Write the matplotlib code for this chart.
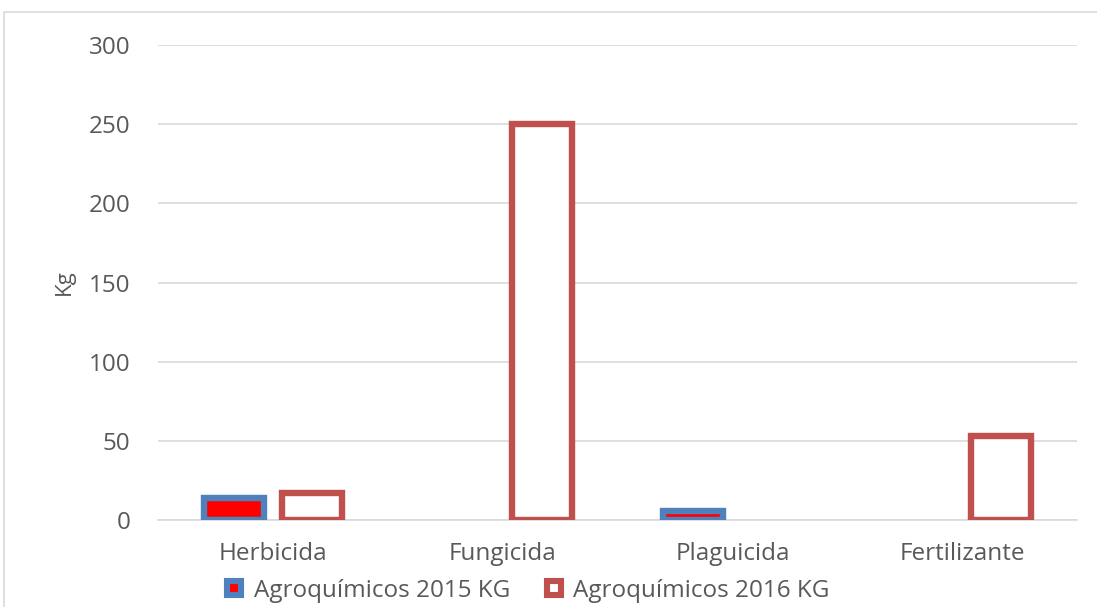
import matplotlib
matplotlib.use("Agg")
import matplotlib.pyplot as plt
import numpy as np
from matplotlib.patches import Rectangle
from matplotlib.lines import Line2D

categories = ["Herbicida", "Fungicida", "Plaguicida", "Fertilizante"]
values_2015 = [14, 0, 6, 0]
values_2016 = [17, 250, 0, 53]
series_names = ["Agroquímicos 2015 KG", "Agroquímicos 2016 KG"]
yticks = [0, 50, 100, 150, 200, 250, 300]

plt.rcParams['font.family'] = ['Open Sans', 'DejaVu Sans']
grey = "#595959"
blue = "#4F81BD"
red_edge = "#C0504D"
fs = 17.5

fig = plt.figure(figsize=(10.97, 6.07), dpi=100)
ax = fig.add_axes([158/1097, 1-520/607, (1077-158)/1097, (520-45)/607])

x = np.arange(len(categories))
w = 0.26
off = 0.17
lw = 4.6
for xi, v in zip(x, values_2015):
    if v > 0:
        ax.bar(xi - off, v, w, facecolor="red", edgecolor=blue, linewidth=lw, zorder=3)
for xi, v in zip(x, values_2016):
    if v > 0:
        ax.bar(xi + off, v, w, facecolor="white", edgecolor=red_edge, linewidth=lw, zorder=3)

ax.set_xlim(-0.5, len(categories) - 0.5)
ax.set_ylim(0, 300)
ax.set_yticks(yticks)
ax.set_xticks(x)
ax.set_xticklabels(categories)
ax.yaxis.grid(True, color="#D9D9D9", linewidth=1.2, zorder=0)
ax.set_axisbelow(True)
for s in ["top", "right", "left"]:
    ax.spines[s].set_visible(False)
ax.spines["bottom"].set_color("#D9D9D9")
ax.spines["bottom"].set_linewidth(1.2)
ax.tick_params(axis="both", length=0, labelsize=fs, colors=grey)
ax.tick_params(axis="x", pad=16)
ax.tick_params(axis="y", pad=20)
ax.set_ylabel("Kg", fontsize=16, color=grey, labelpad=10)

handles = [
    Line2D([], [], linestyle="none", marker="s", markersize=10, markerfacecolor="red",
           markeredgecolor=blue, markeredgewidth=4.4),
    Line2D([], [], linestyle="none", marker="s", markersize=10, markerfacecolor="white",
           markeredgecolor=red_edge, markeredgewidth=4.4),
]
leg = fig.legend(handles, series_names, loc="center", bbox_to_anchor=(527/1097, 1-591/607),
                 ncol=2, frameon=False, fontsize=fs, handlelength=0.8, handletextpad=0.4,
                 columnspacing=1.4, borderaxespad=0, borderpad=0)
for t in leg.get_texts():
    t.set_color(grey)

fig.patches.append(Rectangle((4/1097, -0.05), 1.2, 1 - 12/607 + 0.05, transform=fig.transFigure,
                             fill=False, edgecolor="#D9D9D9", linewidth=1.2))

fig.savefig("out.png", dpi=100)
